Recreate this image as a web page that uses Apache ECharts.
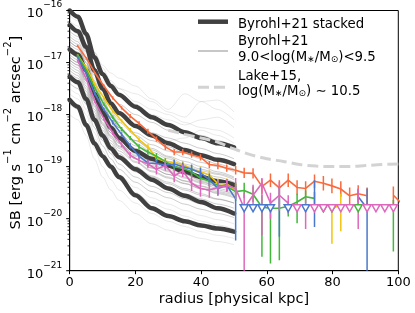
<!DOCTYPE html>
<html><head><meta charset="utf-8">
<script src="https://cdn.jsdelivr.net/npm/echarts@6/dist/echarts.min.js"></script>
<style>html,body{margin:0;padding:0;background:#fff}#c{width:415px;height:313px}</style>
</head><body><div id="c"></div>
<script>
const FONT = 'DejaVu Sans';
// ---- Byrohl+21 stacked profiles (log10 SB) ----
const stackR = [0, 2.5, 5, 7.5, 10, 12.5, 15, 20, 25, 30, 35, 40, 45, 50];
const stackA = [-16.0, -16.12, -16.45, -16.9, -17.22, -17.45, -17.62, -17.85, -18.05, -18.2, -18.34, -18.45, -18.55, -18.63];
const stackB = [-16.28, -16.4, -16.7, -17.15, -17.5, -17.78, -17.97, -18.22, -18.4, -18.55, -18.68, -18.78, -18.87, -18.95];
const stackC = [-16.75, -16.85, -17.15, -17.6, -17.95, -18.25, -18.45, -18.7, -18.85, -18.98, -19.1, -19.2, -19.28, -19.35];
const stackD = [-17.27, -17.38, -17.7, -18.1, -18.4, -18.65, -18.82, -19.05, -19.25, -19.42, -19.56, -19.68, -19.8, -19.9];
const stackE = [-17.72, -17.85, -18.2, -18.55, -18.8, -19.0, -19.2, -19.55, -19.8, -19.95, -20.05, -20.13, -20.19, -20.25];
// ---- Byrohl+21 individual haloes 9.0<logM<9.5 (log10 SB, on stackR) ----
const individualFaint = [
 [-16.1,-16.2,-16.45,-16.8,-17.05,-17.2,-17.3,-17.45,-17.7,-17.9,-17.6,-17.75,-17.9,-18.1],
 [-16.2,-16.3,-16.55,-16.9,-17.2,-17.4,-17.5,-17.6,-17.75,-17.95,-18.05,-17.75,-17.72,-17.95],
 [-16.0,-16.1,-16.4,-16.8,-17.1,-17.35,-17.5,-17.75,-17.9,-18.0,-18.15,-18.25,-18.3,-18.45],
 [-16.45,-16.55,-16.85,-17.3,-17.6,-17.85,-18.0,-18.25,-18.4,-18.5,-18.45,-18.3,-18.4,-18.55],
 [-16.35,-16.45,-16.7,-17.1,-17.35,-17.5,-17.6,-17.8,-18.0,-18.1,-18.2,-18.1,-18.05,-18.25],
 [-17.6,-17.7,-18.0,-18.45,-18.8,-19.05,-19.25,-19.5,-19.7,-19.82,-19.95,-20.05,-20.12,-20.2],
 [-17.8,-17.9,-18.2,-18.65,-19.0,-19.25,-19.45,-19.7,-19.9,-20.05,-20.15,-20.25,-20.32,-20.38],
 [-17.5,-17.6,-17.9,-18.35,-18.7,-18.95,-19.15,-19.4,-19.6,-19.72,-19.84,-19.94,-20.02,-20.1],
 [-18.0,-18.1,-18.4,-18.85,-19.2,-19.45,-19.65,-19.9,-20.1,-20.22,-20.3,-20.38,-20.44,-20.5]
];
const individualCore = [
 [-16.3,-16.4,-16.7,-17.1,-17.4,-17.65,-17.8,-18.0,-18.15,-18.3,-18.35,-18.4,-18.5,-18.6],
 [-16.4,-16.5,-16.8,-17.25,-17.55,-17.8,-17.95,-18.2,-18.35,-18.45,-18.55,-18.65,-18.75,-18.85],
 [-16.5,-16.6,-16.9,-17.35,-17.7,-17.95,-18.1,-18.35,-18.5,-18.62,-18.75,-18.85,-18.95,-19.05],
 [-16.6,-16.7,-17.0,-17.45,-17.8,-18.05,-18.25,-18.5,-18.65,-18.8,-18.9,-19.0,-19.1,-19.2],
 [-16.7,-16.8,-17.1,-17.55,-17.9,-18.15,-18.35,-18.6,-18.78,-18.9,-19.02,-19.12,-19.2,-19.3],
 [-16.8,-16.9,-17.2,-17.65,-18.0,-18.25,-18.45,-18.7,-18.88,-19.0,-19.12,-19.22,-19.3,-19.4],
 [-16.9,-17.0,-17.3,-17.75,-18.1,-18.35,-18.55,-18.8,-18.98,-19.1,-19.22,-19.32,-19.42,-19.5],
 [-17.0,-17.1,-17.4,-17.85,-18.2,-18.45,-18.65,-18.9,-19.08,-19.2,-19.32,-19.42,-19.52,-19.6],
 [-17.1,-17.2,-17.5,-17.95,-18.3,-18.55,-18.75,-19.0,-19.18,-19.3,-19.42,-19.52,-19.62,-19.7],
 [-17.2,-17.3,-17.6,-18.05,-18.4,-18.65,-18.85,-19.1,-19.28,-19.4,-19.52,-19.62,-19.72,-19.8],
 [-17.4,-17.5,-17.8,-18.25,-18.6,-18.85,-19.05,-19.3,-19.48,-19.6,-19.72,-19.82,-19.9,-19.98],
 [-16.85,-16.95,-17.25,-17.7,-18.05,-18.3,-18.5,-18.75,-18.92,-19.05,-19.15,-19.28,-19.38,-19.45],
 [-16.95,-17.05,-17.35,-17.8,-18.15,-18.4,-18.6,-18.85,-19.02,-19.15,-19.28,-19.38,-19.48,-19.55],
 [-16.65,-16.75,-17.05,-17.5,-17.85,-18.1,-18.3,-18.55,-18.72,-18.85,-18.98,-19.08,-19.15,-19.25],
 [-17.3,-17.4,-17.7,-18.15,-18.5,-18.75,-18.95,-19.2,-19.38,-19.5,-19.62,-19.72,-19.8,-19.88],
 [-16.75,-16.85,-17.15,-17.6,-17.95,-18.2,-18.4,-18.65,-18.82,-18.95,-19.07,-19.17,-19.26,-19.35],
 [-16.9,-17.0,-17.3,-17.75,-18.1,-18.35,-18.55,-18.78,-18.95,-19.08,-19.2,-19.3,-19.38,-19.46],
 [-17.05,-17.15,-17.45,-17.9,-18.25,-18.5,-18.7,-18.92,-19.1,-19.22,-19.33,-19.43,-19.5,-19.58],
 [-16.6,-16.7,-17.0,-17.45,-17.8,-18.05,-18.25,-18.5,-18.68,-18.82,-18.95,-19.05,-19.13,-19.22],
 [-16.8,-16.9,-17.2,-17.68,-18.02,-18.28,-18.48,-18.72,-18.9,-19.02,-19.14,-19.26,-19.36,-19.44],
 [-17.15,-17.25,-17.55,-18.0,-18.35,-18.6,-18.8,-19.02,-19.2,-19.33,-19.45,-19.55,-19.63,-19.7],
 [-16.95,-17.05,-17.35,-17.82,-18.18,-18.42,-18.62,-18.85,-19.03,-19.15,-19.27,-19.37,-19.45,-19.53],
 [-16.55,-16.65,-16.95,-17.4,-17.72,-17.98,-18.15,-18.4,-18.58,-18.7,-18.82,-18.92,-19.0,-19.1]
];
// ---- Lake+15 ----
const lakeR = [30, 35, 40, 45, 50, 55, 60, 65, 70, 75, 80, 85, 90, 95, 100];
const lakeLog = [-18.3, -18.38, -18.45, -18.53, -18.66, -18.77, -18.85, -18.9, -18.96, -18.99, -19.0, -19.0, -18.98, -18.96, -18.95];
// ---- measured profiles (log10 SB) ----
const dataR = [2.4,5.1,7.7,10.4,13.1,15.8,18.4,21.1,23.8,26.4,29.1,31.8,34.4,37.1,39.8,42.5,45.1,47.8,50.5,53.1,55.8,58.5,61.1,63.8,66.5,69.2,71.8,74.5,77.2,79.8,82.5,85.2,87.8,90.5,93.2,95.9,98.5,101.2];
const orangeLog = [-16.68,-16.92,-17.2,-17.45,-17.68,-17.87,-18.03,-18.17,-18.32,-18.47,-18.62,-18.72,-18.72,-18.77,-18.82,-18.96,-18.98,-19.03,-19.07,-19.12,-19.13,-19.38,-19.26,-19.41,-19.26,-19.4,-19.42,-19.28,-19.32,-19.37,-19.43,-19.56,-19.52,-19.56,null,null,-19.55,-19.72];
const orangeErrLo = [0.02,0.02,0.02,0.03,0.03,0.03,0.04,0.04,0.05,0.05,0.06,0.06,0.06,0.06,0.06,0.07,0.07,0.07,0.08,0.1,0.1,0.14,0.13,0.15,0.13,0.14,0.14,0.13,0.14,0.14,0.15,0.16,0.16,0.16,null,null,0.17,0.18];
const orangeErrHi = [0.02,0.02,0.02,0.03,0.03,0.03,0.04,0.04,0.05,0.05,0.06,0.06,0.06,0.06,0.06,0.07,0.07,0.07,0.08,0.1,0.1,0.14,0.13,0.15,0.13,0.14,0.14,0.13,0.14,0.14,0.15,0.16,0.16,0.16,null,null,0.17,0.18];
const yellowLog = [-16.86,-17.1,-17.42,-17.68,-17.93,-18.12,-18.3,-18.48,-18.62,-18.84,-18.9,-18.92,-18.96,-19.05,-19.1,-19.16,-19.33,-19.33,-19.45,null,null,null,null,null,null,null,null,null,null,-19.8,-19.74,null,null,null,null,null,null,null];
const yellowErrLo = [0.02,0.02,0.02,0.03,0.03,0.03,0.04,0.04,0.05,0.06,0.06,0.07,0.07,0.08,0.1,0.09,0.1,0.1,0.12,null,null,null,null,null,null,null,null,null,null,0.68,0.5,null,null,null,null,null,null,null];
const yellowErrHi = [0.02,0.02,0.02,0.03,0.03,0.03,0.04,0.04,0.05,0.06,0.06,0.07,0.07,0.08,0.1,0.09,0.1,0.1,0.12,null,null,null,null,null,null,null,null,null,null,0.06,0.22,null,null,null,null,null,null,null];
const greenLog = [-16.86,-17.15,-17.5,-17.8,-18.05,-18.28,-18.45,-18.62,-18.72,-18.8,-18.9,-19.0,-19.03,-19.1,-19.22,-19.28,-19.36,-19.38,-19.48,-19.46,-19.53,-19.78,-19.8,-19.8,-19.76,-19.68,-19.58,-19.61,null,null,null,null,null,null,null,null,-19.78,null];
const greenErrLo = [0.02,0.02,0.02,0.03,0.03,0.04,0.04,0.05,0.05,0.06,0.06,0.07,0.08,0.08,0.12,0.1,0.1,0.1,0.18,0.15,0.15,0.95,1.06,1.0,0.2,0.41,0.13,0.13,null,null,null,null,null,null,null,null,0.85,null];
const greenErrHi = [0.02,0.02,0.02,0.03,0.03,0.04,0.04,0.05,0.05,0.06,0.06,0.07,0.08,0.08,0.12,0.1,0.1,0.1,0.18,0.15,0.15,0.23,0.16,0.2,0.1,0.16,0.12,0.12,null,null,null,null,null,null,null,null,0.14,null];
const blueLog = [-16.9,-17.22,-17.6,-17.9,-18.15,-18.38,-18.6,-18.8,-18.93,-18.94,-18.97,-18.95,-19.0,-19.05,-19.12,-19.25,-19.42,-19.36,-19.62,null,null,null,null,-19.75,null,null,null,-19.62,null,null,null,null,-19.58,-19.8,null,null,null,null];
const blueErrLo = [0.02,0.02,0.03,0.03,0.04,0.04,0.05,0.05,0.06,0.07,0.07,0.08,0.08,0.09,0.1,0.12,0.14,0.12,0.8,null,null,null,null,0.6,null,null,null,0.54,null,null,null,null,0.15,1.3,null,null,null,null];
const blueErrHi = [0.02,0.02,0.03,0.03,0.04,0.04,0.05,0.05,0.06,0.07,0.07,0.08,0.08,0.09,0.1,0.12,0.14,0.12,0.25,null,null,null,null,0.36,null,null,null,0.36,null,null,null,null,0.15,0.38,null,null,null,null];
const pinkLog = [-16.96,-17.32,-17.75,-18.08,-18.35,-18.58,-18.78,-18.88,-18.95,-19.05,-18.98,-19.18,-19.08,-19.32,-19.42,-19.45,-19.4,-19.36,-19.42,-19.8,-19.55,-19.32,-19.7,-19.55,-19.7,null,-19.75,null,null,null,null,null,-19.7,null,null,null,null,null];
const pinkErrLo = [0.02,0.02,0.03,0.03,0.04,0.05,0.06,0.07,0.08,0.1,0.1,0.12,0.12,0.15,0.16,0.15,0.14,0.12,0.2,1.3,0.25,1.0,0.3,0.3,0.2,null,0.45,null,null,null,null,null,0.5,null,null,null,null,null];
const pinkErrHi = [0.02,0.02,0.03,0.03,0.04,0.05,0.06,0.07,0.08,0.1,0.1,0.12,0.12,0.15,0.16,0.15,0.14,0.12,0.2,0.3,0.2,0.1,0.2,0.25,0.15,null,0.15,null,null,null,null,null,0.28,null,null,null,null,null];
// upper limits (radii), all at the same limit level
const limitLog = -19.8;
const blueLimR = [53.1, 55.8, 58.5, 61.1, 66.5, 71.8];
const greenLimR = [77.2, 79.8, 87.8];
const pinkLimR = [69.2, 74.5, 77.2, 79.8, 82.5, 85.2, 90.5, 93.2, 95.9, 98.5];
// axis ticks
const xTicks = [0, 20, 40, 60, 80, 100];
const yDecades = [-21, -20, -19, -18, -17, -16];
const minorMantissas = [2, 3, 4, 5, 6, 7, 8, 9];

const P = v => Math.pow(10, v);
const decadeValue = d => Number('1e' + d);
const COL = {orange:'#fa6a3c', yellow:'#f2c40c', green:'#42b83a', blue:'#4a78cc', pink:'#de68bd', stack:'#404040',
  indivCore:'rgba(120,120,120,0.36)', indivFaint:'rgba(150,150,150,0.2)', lake:'#d3d3d3'};

const supRich = {
  b:{fontSize:13, lineHeight:20, verticalAlign:'bottom', fontFamily:FONT, fill:'#000', color:'#000'},
  s:{fontSize:9, lineHeight:9, verticalAlign:'top', fontFamily:FONT, fill:'#000', color:'#000'}
};
const nameRich = {
  a:{fontSize:14.5, lineHeight:20, verticalAlign:'bottom', fontFamily:FONT, color:'#000'},
  s:{fontSize:10, lineHeight:10, verticalAlign:'top', fontFamily:FONT, color:'#000'}
};
const legRich = {
  a:{fontSize:13.3, lineHeight:18, verticalAlign:'bottom', fontFamily:FONT, color:'#000'},
  u:{fontSize:9, lineHeight:13, verticalAlign:'bottom', fontFamily:FONT, color:'#000'}
};

const series = [];
individualFaint.forEach(arr => series.push({type:'line', data: arr.map((v,i)=>[stackR[i], P(v)]), showSymbol:false, silent:true,
  smooth:0.3, smoothMonotone:'x', lineStyle:{color:COL.indivFaint, width:1}, z:1, animation:false}));
individualCore.forEach(arr => series.push({type:'line', data: arr.map((v,i)=>[stackR[i], P(v)]), showSymbol:false, silent:true,
  smooth:0.3, smoothMonotone:'x', lineStyle:{color:COL.indivCore, width:1}, z:1, animation:false}));
[stackA, stackB, stackC, stackD, stackE].forEach(arr => series.push({type:'line', data: arr.map((v,i)=>[stackR[i], P(v)]), showSymbol:false, silent:true,
  smooth:0.3, smoothMonotone:'x', lineStyle:{color:COL.stack, width:4.5, cap:'round', join:'round'}, z:2, animation:false}));
series.push({type:'line', data: lakeLog.map((v,i)=>[lakeR[i], P(v)]), showSymbol:false, silent:true,
  smooth:0.3, lineStyle:{color:COL.lake, width:3, type:[11,5]}, z:3, animation:false});

function errRender(params, api) {
  const x = api.value(0);
  const p1 = api.coord([x, api.value(1)]), p2 = api.coord([x, api.value(2)]);
  return {type:'line', shape:{x1:p1[0], y1:p1[1], x2:p2[0], y2:p2[1]}, style:{stroke: api.visual('color'), lineWidth:1.5}};
}
const measured = [
  ['orange', orangeLog, orangeErrLo, orangeErrHi, []],
  ['yellow', yellowLog, yellowErrLo, yellowErrHi, []],
  ['green', greenLog, greenErrLo, greenErrHi, greenLimR],
  ['blue', blueLog, blueErrLo, blueErrHi, blueLimR],
  ['pink', pinkLog, pinkErrLo, pinkErrHi, pinkLimR]
];
measured.forEach(([name, vals, lo, hi, lim], si) => {
  const c = COL[name];
  series.push({type:'line', data: vals.map((v,i)=> [dataR[i], v===null? '-' : P(v)]), showSymbol:false, silent:true,
    connectNulls:false, lineStyle:{color:c, width:1.6}, itemStyle:{color:c}, z:4+si, animation:false, clip:true});
  const eb = [];
  vals.forEach((v,i)=>{ if (v!==null) eb.push([dataR[i], P(v-lo[i]), P(v+hi[i])]); });
  series.push({type:'custom', renderItem: errRender, data: eb, encode:{x:0, y:[1,2]}, itemStyle:{color:c}, clip:true, silent:true, z:4+si, animation:false});
  if (lim.length) series.push({type:'scatter', data: lim.map(r=>[r, P(limitLog)]), symbol:'triangle', symbolRotate:180, symbolSize:[8,7],
    itemStyle:{color:'#ffffff', borderColor:c, borderWidth:1.5, opacity:1}, z:10+si, silent:true, animation:false});
});
// minor ticks on the log axis
const minorVals = [];
yDecades.slice(0,-1).forEach(d => minorMantissas.forEach(m => minorVals.push([0, m*decadeValue(d)])));
series.push({type:'custom', data: minorVals, encode:{x:0,y:1}, silent:true, clip:false, z:20, animation:false,
  renderItem:(p, api)=>{ const q = api.coord([0, api.value(1)]); return {type:'line', shape:{x1:q[0]-2.2, y1:q[1], x2:q[0], y2:q[1]}, style:{stroke:'#000', lineWidth:0.8}}; }});
// decade ticks and labels, placed through the log axis
const decadeLabels = yDecades.map(d => [0, decadeValue(d), d]);
series.push({type:'custom', data: decadeLabels, encode:{x:0,y:1}, silent:true, clip:false, z:20, animation:false,
  renderItem:(p, api)=>{ const q = api.coord([0, api.value(1)]); const d = api.value(2);
    return {type:'group', children:[
      {type:'line', shape:{x1:q[0]-3.5, y1:q[1], x2:q[0], y2:q[1]}, style:{stroke:'#000', lineWidth:1}},
      {type:'text', x:q[0]-7.5, y:q[1], style:{text:'{b|10}{s|\u2212' + Math.abs(d) + '}', rich:supRich, align:'right', verticalAlign:'middle'}}
    ]}; }});

const chart = echarts.init(document.getElementById('c'), null, {renderer:'canvas'});
chart.setOption({
  animation:false,
  backgroundColor:'#fff',
  grid:{left:69.7, right:16.7, top:10.5, bottom:42.3, show:true, borderColor:'#000', borderWidth:1, backgroundColor:'transparent',
    containLabel:false, outerBoundsMode:'none'},
  xAxis:{type:'value', min:xTicks[0], max:xTicks[xTicks.length-1], interval:20,
    axisLine:{show:true, lineStyle:{color:'#000', width:1}}, axisTick:{show:true, length:3.5, lineStyle:{color:'#000'}},
    axisLabel:{fontSize:13, color:'#000', fontFamily:FONT, margin:5, showMinLabel:true, showMaxLabel:true},
    splitLine:{show:false},
    name:'radius [physical kpc]', nameLocation:'middle', nameGap:21, nameMoveOverlap:false,
    nameTextStyle:{fontSize:14.5, color:'#000', fontFamily:FONT}},
  yAxis:{type:'log', logBase:10, min:decadeValue(yDecades[0]), max:decadeValue(yDecades[yDecades.length-1]),
    axisLine:{show:true, lineStyle:{color:'#000', width:1}}, axisTick:{show:false},
    axisLabel:{show:false},
    splitLine:{show:false}, minorTick:{show:false},
    name:'{a|SB [erg s}{s|\u22121}{a| cm}{s|\u22122}{a| arcsec}{s|\u22122}{a|]}', nameLocation:'middle', nameGap:46, nameRotate:90,
    nameMoveOverlap:false, nameTextStyle:{rich:nameRich, fontSize:14.5, fontFamily:FONT, color:'#000', padding:[0,0,0,16]}},
  graphic:[
    {type:'line', shape:{x1:198, y1:21.7, x2:228, y2:21.7}, style:{stroke:COL.stack, lineWidth:4.5}, z:50},
    {type:'text', x:238, y:21.7, style:{text:'{a|Byrohl+21 stacked}', rich:legRich, verticalAlign:'middle'}, z:50},
    {type:'line', shape:{x1:198, y1:51, x2:228, y2:51}, style:{stroke:'#b4b4b4', lineWidth:1.5}, z:50},
    {type:'text', x:238, y:39.3, style:{text:'{a|Byrohl+21}', rich:legRich, verticalAlign:'middle'}, z:50},
    {type:'text', x:238, y:55, style:{text:'{a|9.0<log(M}{u|\u2217}{a|/M}{u|\u2299}{a|)<9.5}', rich:legRich, verticalAlign:'middle'}, z:50},
    {type:'line', shape:{x1:198, y1:87.3, x2:228, y2:87.3}, style:{stroke:COL.lake, lineWidth:3, lineDash:[11,5]}, z:50},
    {type:'text', x:238, y:74, style:{text:'{a|Lake+15,}', rich:legRich, verticalAlign:'middle'}, z:50},
    {type:'text', x:238, y:89.3, style:{text:'{a|log(M}{u|\u2217}{a|/M}{u|\u2299}{a|) \u223c 10.5}', rich:legRich, verticalAlign:'middle'}, z:50}
  ],
  series: series
});
</script></body></html>
